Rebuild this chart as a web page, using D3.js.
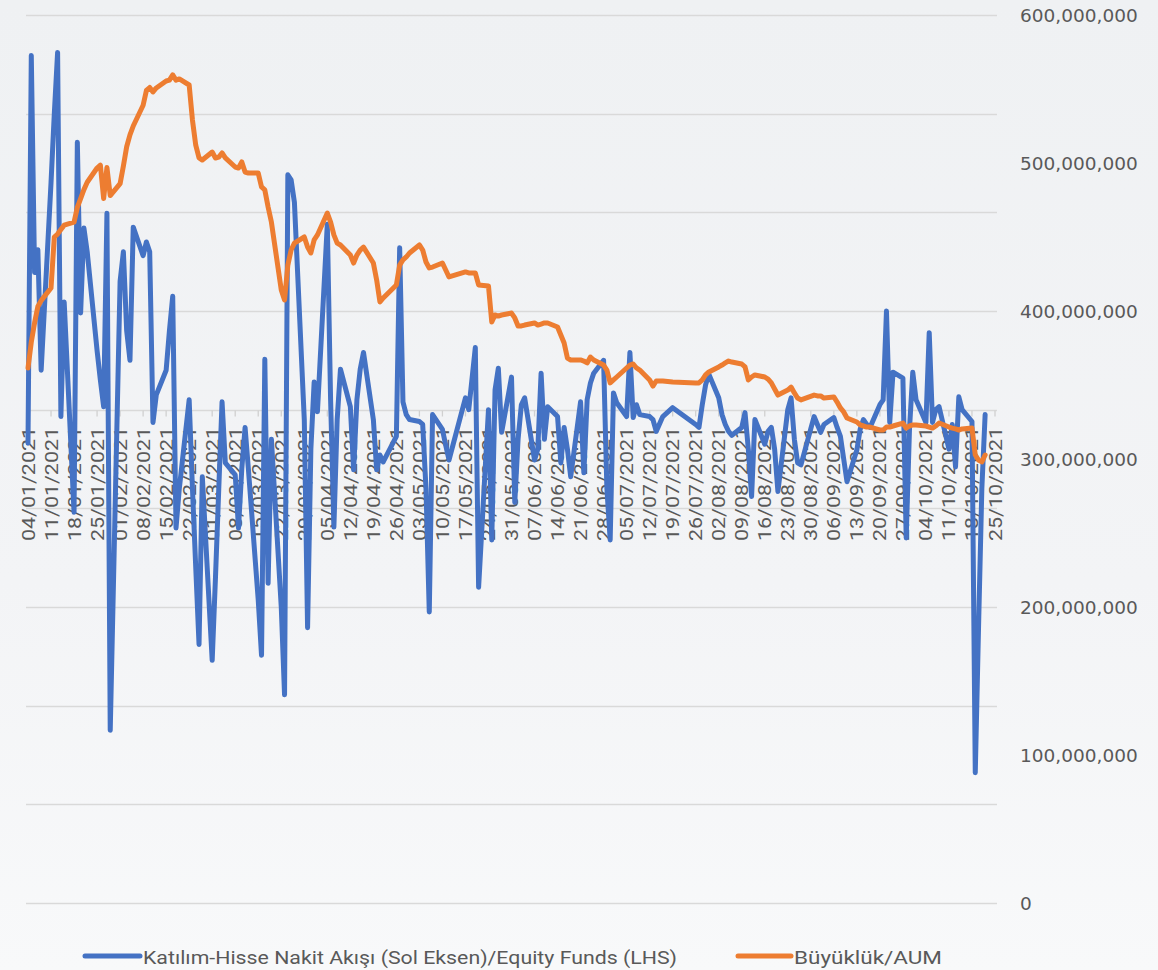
<!DOCTYPE html>
<html lang="tr">
  <head>
    <meta charset="UTF-8" />
    <title>Katılım-Hisse Nakit Akışı / Büyüklük</title>
    <script src="https://d3js.org/d3.v7.min.js"></script>
    <style>
      body { margin: 0; background: #f3f4f6; }
      svg { display: block; }
    </style>
  </head>
  <body>
    <svg width="1158" height="970"></svg>
    <script>
      // business days (2021), holidays left out
      const days = [
        '04/01','05/01','06/01','07/01','08/01','11/01','12/01','13/01','14/01','15/01',
        '18/01','19/01','20/01','21/01','22/01','25/01','26/01','27/01','28/01','29/01',
        '01/02','02/02','03/02','04/02','05/02','08/02','09/02','10/02','11/02','12/02',
        '15/02','16/02','17/02','18/02','19/02','22/02','23/02','24/02','25/02','26/02',
        '01/03','02/03','03/03','04/03','05/03','08/03','09/03','10/03','11/03','12/03',
        '15/03','16/03','17/03','18/03','19/03','22/03','23/03','24/03','25/03','26/03',
        '29/03','30/03','31/03',
        '01/04','02/04','05/04','06/04','07/04','08/04','09/04','12/04','13/04','14/04',
        '15/04','16/04','19/04','20/04','21/04','22/04','26/04','27/04','28/04','29/04','30/04',
        '03/05','04/05','05/05','06/05','07/05','10/05','11/05','12/05','17/05','18/05',
        '20/05','21/05','24/05','25/05','26/05','27/05','28/05','31/05',
        '01/06','02/06','03/06','04/06','07/06','08/06','09/06','10/06','11/06','14/06',
        '15/06','16/06','17/06','18/06','21/06','22/06','23/06','24/06','25/06','28/06',
        '29/06','30/06',
        '01/07','02/07','05/07','06/07','07/07','08/07','09/07','12/07','13/07','14/07',
        '16/07','19/07','26/07','27/07','28/07','29/07','30/07',
        '02/08','03/08','04/08','05/08','06/08','09/08','10/08','11/08','12/08','13/08',
        '16/08','17/08','18/08','19/08','20/08','23/08','24/08','25/08','26/08','27/08','31/08',
        '01/09','02/09','03/09','06/09','07/09','08/09','09/09','10/09','13/09','14/09',
        '15/09','16/09','17/09','20/09','21/09','22/09','23/09','24/09','27/09','28/09',
        '29/09','30/09',
        '01/10','04/10','05/10','06/10','07/10','08/10','11/10','12/10','13/10','14/10',
        '15/10','18/10','19/10','20/10','21/10','22/10',
      ];

      // daily net flow, million TL (left axis, not labelled)
      const flow = [
        -3.4, 35.9, 13.9, 16.2, 4.0, 23, 30, 36.2, -0.7, 10.9,
        -10.4, 27.1, 9.8, 18.4, 16, 6, 3, 0.3, 19.9, -32.5,
        13, 16, 8, 5, 18.5, 15.6, 17, 16, -1.3, 1.5,
        4.0, 8, 11.5, -12, -8, 1.0, -8, -16, -23.8, -6.8,
        -25.4, -17, -8, 0.8, -5.4, -6.6, -12, -6, -1.8, -6,
        -19.3, -24.9, 5.1, -17.6, -3.0, -20, -28.9, 23.8, 23.3, 21,
        -1, -22.1, -4,
        2.8, -0.2, 18.8, 1.0, -11.9, -1, 4.1, 0.3, -6.1, 1.0,
        4.1, 5.8, -1, -6.1, -4.6, -5.3, -2.7, 16.4, 0.8, -0.5, -1,
        -1.2, -1.5, -8, -20.5, -0.5, -2.0, -3.6, -5.1, 1.2, 0,
        6.3, -18.0, 0, -13.2, 2, 4.2, -2.3, 3.3,
        -9.4, -3, 0.5, 1.2, -5.1, -4, 3.7, -3.0, 0.3, -0.7,
        -5.4, -1.8, -4, -6.8, 0.8, -6.4, 1, 2.7, 3.7, 5,
        -8, -13.2,
        1.7, 0.7, -0.7, 5.8, -0.8, 0.5, -0.5, -0.7, -1, -2.2,
        -0.7, 0.2, -1.5, -1.8, 0.5, 2.5, 3.6,
        1.2, -0.5, -1.5, -2.2, -2.6, -1.8, -0.3, -4, -8.8, -1,
        -3.5, -2.2, -1.8, -4, -8.3, 0, 1.2, -3, -5.4, -5.6, -0.7,
        -1.5, -2.3, -1.5, -0.8, -1.8, -2.7, -5, -7.3, -4.1, -2,
        -1, -1.5, -1.8, 0.5, 1.0, 10.0, -1.3, 3.8, 3.2, -13,
        -2, 3.8,
        1.0, -1.3, 7.8, -1.3, 0, 0.3, -4, -1.5, -5.8, 1.3,
        0, -1.2, -36.8, -22, -8, -0.5,
      ];

      // fund size, million TL (right axis)
      const aum = [
        361.5, 379, 392, 403, 407, 415.5, 450, 452, 455, 458,
        460, 470, 476, 482, 487, 496.6, 498.6, 476, 497, 478,
        486, 498, 511, 519, 525, 539, 549, 551, 548, 550.7,
        555.4, 556, 559.5, 556, 556.8, 552.7, 529, 512, 503.4, 502,
        507.4, 503.4, 504, 506.8, 503.4, 497.3, 496.6, 500.7, 493.9, 493.2,
        493.2, 483.8, 481.8, 470.3, 460.1, 414.2, 407.4, 431, 441.2, 445.9,
        450, 443.2, 439.2,
        448, 451.4, 466.2, 460.1, 451.4, 445.9, 444.6, 437.8, 432.4, 437.8,
        441.2, 443.2, 432.4, 421, 406.1, 408.8, 417.6, 431, 434.5, 436.5, 439.2,
        444.6, 441.2, 433.1, 429.1, 429.7, 432.4, 427.7, 423, 426.4, 425.7,
        425.7, 417.6, 416.9, 392.6, 397.3, 396.6, 397.3, 398.6,
        395.3, 389.9, 389.9, 390.5, 391.9, 390.5, 391.2, 391.9, 391.9, 389.2,
        383.8, 378.4, 368.2, 366.9, 366.9, 366.2, 364.9, 368.9, 366.9, 363.5,
        360.1, 351.4,
        353.4, 355.4, 361.5, 363.5, 364.2, 361.5, 360.1, 353.4, 349.3, 352.7,
        352.7, 352, 351.4, 351.4, 353.4, 356.8, 358.8,
        362.2, 363.5, 364.9, 366.2, 365.5, 364.2, 362.2, 353.4, 355.4, 356.8,
        355.4, 354, 351.4, 347.3, 343.2, 346.6, 348.6, 344.6, 341.2, 339.9, 343.2,
        342.6, 342.6, 341.2, 341.9, 338.5, 334.5, 331.8, 327.7, 325, 323,
        322.3, 321.6, 321.6, 319.6, 319.6, 321.6, 321.6, 322.3, 324.3, 320.9,
        322.3, 323,
        323, 322.3, 321.6, 320.9, 322.3, 324.3, 321.6, 320.9, 320.3, 319.6,
        320.3, 320.9, 302.7, 299.3, 298, 302.7,
      ];

      const weekLabels = [
        '04/01/2021','11/01/2021','18/01/2021','25/01/2021','01/02/2021','08/02/2021',
        '15/02/2021','22/02/2021','01/03/2021','08/03/2021','15/03/2021','22/03/2021',
        '29/03/2021','05/04/2021','12/04/2021','19/04/2021','26/04/2021','03/05/2021',
        '10/05/2021','17/05/2021','24/05/2021','31/05/2021','07/06/2021','14/06/2021',
        '21/06/2021','28/06/2021','05/07/2021','12/07/2021','19/07/2021','26/07/2021',
        '02/08/2021','09/08/2021','16/08/2021','23/08/2021','30/08/2021','06/09/2021',
        '13/09/2021','20/09/2021','27/09/2021','04/10/2021','11/10/2021','18/10/2021',
        '25/10/2021',
      ];

      const leftTicks = [-50, -40, -30, -20, -10, 0, 10, 20, 30, 40];
      const rightTicks = [0, 100, 200, 300, 400, 500, 600];

      const seriesNames = [
        'Katılım-Hisse Nakit Akışı (Sol Eksen)/Equity Funds (LHS)',
        'Büyüklük/AUM',
      ];
      const colors = ['#4472c4', '#ed7d31'];

      const width = 1158;
      const height = 970;
      const plot = { left: 26, right: 997, top: 15, bottom: 903 };
      const svg = d3.select('svg');
      const parse = d3.timeParse('%d/%m/%Y');

      const data = days.map((d, i) => ({
        date: parse(d + '/2021'),
        flow: flow[i],
        aum: aum[i],
      }));
      const weekDates = weekLabels.map(parse);

      const x = d3
        .scaleTime()
        .domain([weekDates[0], weekDates[weekDates.length - 1]])
        .range([28, 995]);
      const yL = d3.scaleLinear().domain([-50, 40]).range([plot.bottom, plot.top]);
      const yR = d3.scaleLinear().domain([0, 600]).range([plot.bottom, plot.top]);

      // background
      const grad = svg
        .append('defs')
        .append('linearGradient')
        .attr('id', 'bg')
        .attr('x1', 0)
        .attr('y1', 0)
        .attr('x2', 0)
        .attr('y2', 1);
      grad.append('stop').attr('offset', '0%').attr('stop-color', '#eff1f3');
      grad.append('stop').attr('offset', '60%').attr('stop-color', '#f3f4f6');
      grad.append('stop').attr('offset', '100%').attr('stop-color', '#f8f9fa');
      svg
        .append('rect')
        .attr('width', width)
        .attr('height', height)
        .attr('fill', 'url(#bg)');

      // gridlines follow the (hidden) left axis
      svg
        .append('g')
        .selectAll('line')
        .data(leftTicks)
        .join('line')
        .attr('x1', plot.left)
        .attr('x2', plot.right)
        .attr('y1', (d) => Math.round(yL(d)) + 0.5)
        .attr('y2', (d) => Math.round(yL(d)) + 0.5)
        .attr('stroke', '#d9d9d9')
        .attr('stroke-width', 1.3);

      // date axis crossing at zero of the left axis
      const y0 = Math.round(yL(0)) + 0.5;
      svg
        .append('g')
        .selectAll('line')
        .data(weekDates)
        .join('line')
        .attr('x1', (d) => x(d))
        .attr('x2', (d) => x(d))
        .attr('y1', y0)
        .attr('y2', y0 + 6)
        .attr('stroke', '#d0d0d0')
        .attr('stroke-width', 1.3);

      svg
        .append('g')
        .attr('font-family', 'Roboto, sans-serif')
        .attr('font-size', 19)
        .attr('fill', '#595959')
        .selectAll('text')
        .data(weekDates)
        .join('text')
        .attr('transform', (d) => `translate(${x(d)},427) rotate(-90)`)
        .attr('text-anchor', 'end')
        .attr('dominant-baseline', 'central')
        .attr('textLength', 114)
        .attr('lengthAdjust', 'spacingAndGlyphs')
        .text((d, i) => weekLabels[i]);

      // right axis labels
      svg
        .append('g')
        .attr('font-family', 'DejaVu Sans, sans-serif')
        .attr('font-size', 18.5)
        .attr('fill', '#595959')
        .selectAll('text')
        .data(rightTicks)
        .join('text')
        .attr('x', 1020)
        .attr('y', (d) => yR(d))
        .attr('dominant-baseline', 'central')
        .text((d) => d3.format(',')(d * 1e6));

      const lineFlow = d3
        .line()
        .x((d) => x(d.date))
        .y((d) => yL(d.flow));
      const lineAum = d3
        .line()
        .x((d) => x(d.date))
        .y((d) => yR(d.aum));

      svg
        .append('path')
        .datum(data)
        .attr('d', lineFlow)
        .attr('fill', 'none')
        .attr('stroke', colors[0])
        .attr('stroke-width', 5)
        .attr('stroke-linejoin', 'round')
        .attr('stroke-linecap', 'round');

      svg
        .append('path')
        .datum(data)
        .attr('d', lineAum)
        .attr('fill', 'none')
        .attr('stroke', colors[1])
        .attr('stroke-width', 5)
        .attr('stroke-linejoin', 'round')
        .attr('stroke-linecap', 'round');

      // legend
      const legend = [
        { x1: 85, x2: 140, tx: 143, len: 534 },
        { x1: 738, x2: 791, tx: 794, len: 148 },
      ];
      const lg = svg.append('g').attr('font-family', 'Roboto, sans-serif').attr('font-size', 19);
      legend.forEach((l, i) => {
        lg.append('line')
          .attr('x1', l.x1)
          .attr('x2', l.x2)
          .attr('y1', 956)
          .attr('y2', 956)
          .attr('stroke', colors[i])
          .attr('stroke-width', 5)
          .attr('stroke-linecap', 'round');
        lg.append('text')
          .attr('x', l.tx)
          .attr('y', 957)
          .attr('dominant-baseline', 'central')
          .attr('fill', '#595959')
          .attr('textLength', l.len)
          .attr('lengthAdjust', 'spacingAndGlyphs')
          .text(seriesNames[i]);
      });
    </script>
  </body>
</html>
